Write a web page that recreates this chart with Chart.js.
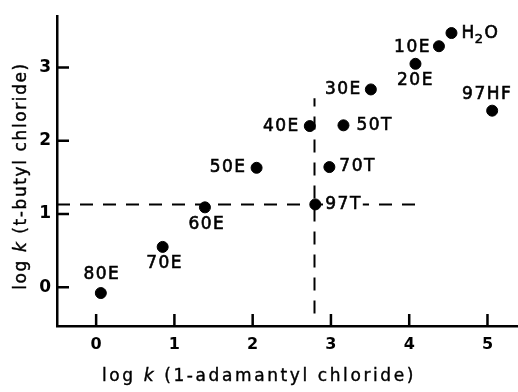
<!DOCTYPE html>
<html>
<head>
<meta charset="utf-8">
<script src="https://cdn.jsdelivr.net/npm/chart.js@4.4.1/dist/chart.umd.min.js"></script>
<style>
  html, body { margin: 0; padding: 0; background: #fff; }
</style>
</head>
<body>
<canvas id="lfer" width="518" height="392"></canvas>
<script>
// solvent codes and rate constants (log k)
const solvents = ['80E', '70E', '60E', '50E', '40E', '30E', '20E', '10E', 'H2O', '50T', '70T', '97T', '97HF'];
const logkAdamantyl = [0.06, 0.85, 1.39, 2.05, 2.73, 3.51, 4.08, 4.38, 4.54, 3.16, 2.98, 2.80, 5.06];
const logkButyl = [-0.08, 0.55, 1.09, 1.63, 2.20, 2.70, 3.05, 3.29, 3.47, 2.21, 1.64, 1.13, 2.41];

const xTickValues = [0, 1, 2, 3, 4, 5];
const yTickValues = [0, 1, 2, 3];

// dashed guide lines through 97T
const hGuideX = [-0.5, 4.12];
const hGuideY = [1.13, 1.13];
const vGuideX = [2.79, 2.79];
const vGuideY = [-0.36, 2.58];

const FONT = '"DejaVu Sans", sans-serif';

// where each label sits relative to its dot: [align, dx, dy, whiteBg]
const labelLayout = {
  '80E': ['center', 1, -18],
  '70E': ['center', 2, 17],
  '60E': ['center', 2, 17],
  '50E': ['right', -10, 0],
  '40E': ['right', -10, 1],
  '30E': ['right', -9, 0],
  '20E': ['center', 0, 17],
  '10E': ['right', -8, 1],
  'H2O': ['left', 10, 1],
  '50T': ['left', 13, 0],
  '70T': ['left', 10, 0],
  '97T': ['left', 10, 0, true],
  '97HF': ['center', -5, -16]
};

function drawRuns(ctx, runs, size) {
  // measure then draw text runs centered on the current origin
  let total = 0;
  runs.forEach(r => {
    ctx.font = (r.italic ? 'italic ' : '') + size + 'px ' + FONT;
    r.w = ctx.measureText(r.t).width;
    total += r.w;
  });
  let x = -total / 2;
  runs.forEach(r => {
    ctx.font = (r.italic ? 'italic ' : '') + size + 'px ' + FONT;
    ctx.fillText(r.t, x, 0);
    ctx.strokeText(r.t, x, 0);
    x += r.w;
  });
}

function boldText(ctx, t, x, y) {
  ctx.fillText(t, x, y);
  ctx.strokeText(t, x, y);
}

const decorations = {
  id: 'decorations',
  afterDatasetsDraw(chart) {
    const ctx = chart.ctx;
    const xs = chart.scales.x, ys = chart.scales.y;
    const area = chart.chartArea;

    // inward tick marks
    ctx.save();
    ctx.strokeStyle = '#000';
    ctx.lineWidth = 2.5;
    ctx.beginPath();
    xTickValues.forEach(v => {
      const px = xs.getPixelForValue(v);
      ctx.moveTo(px, area.bottom);
      ctx.lineTo(px, area.bottom - 12);
    });
    yTickValues.forEach(v => {
      const py = ys.getPixelForValue(v);
      ctx.moveTo(area.left, py);
      ctx.lineTo(area.left + 12, py);
    });
    ctx.stroke();
    ctx.restore();

    // point labels
    const meta = chart.getDatasetMeta(2);
    ctx.save();
    ctx.fillStyle = '#000';
    ctx.strokeStyle = '#000';
    ctx.lineWidth = 0.6;
    ctx.textBaseline = 'middle';
    ctx.font = '17px ' + FONT;
    ctx.letterSpacing = '1.5px';
    solvents.forEach((name, i) => {
      const el = meta.data[i];
      const lay = labelLayout[name];
      const x = el.x + lay[1], y = el.y + lay[2];
      if (name === 'H2O') {
        ctx.textAlign = 'left';
        ctx.font = '17px ' + FONT;
        boldText(ctx, 'H', x, y);
        let w = ctx.measureText('H').width;
        ctx.font = '13px ' + FONT;
        boldText(ctx, '2', x + w - 1, y + 6);
        w += ctx.measureText('2').width - 1;
        ctx.font = '17px ' + FONT;
        boldText(ctx, 'O', x + w, y);
        return;
      }
      ctx.textAlign = lay[0];
      if (lay[3]) {
        const w = ctx.measureText(name).width;
        ctx.fillStyle = '#fff';
        ctx.fillRect(x - 1, y - 8, w + 2, 16);
        ctx.fillStyle = '#000';
      }
      boldText(ctx, name, x, y);
    });
    ctx.restore();
  },
  afterDraw(chart) {
    const ctx = chart.ctx;
    ctx.save();
    ctx.fillStyle = '#000';
    ctx.strokeStyle = '#000';
    ctx.lineWidth = 0.4;
    ctx.textBaseline = 'middle';
    ctx.textAlign = 'left';
    // x title
    ctx.save();
    ctx.letterSpacing = '2.6px';
    ctx.translate(259, 377);
    drawRuns(ctx, [{t: 'log '}, {t: 'k', italic: true}, {t: ' (1-adamantyl chloride)'}], 17);
    ctx.restore();
    // y title
    ctx.save();
    ctx.letterSpacing = '1.6px';
    ctx.translate(22, 176);
    ctx.rotate(-Math.PI / 2);
    drawRuns(ctx, [{t: 'log '}, {t: 'k', italic: true}, {t: ' (t-butyl chloride)'}], 17);
    ctx.restore();
    ctx.restore();
  }
};

const toPoints = (xsArr, ysArr) => xsArr.map((x, i) => ({x: x, y: ysArr[i]}));

new Chart(document.getElementById('lfer'), {
  type: 'scatter',
  data: {
    datasets: [{
      data: toPoints(hGuideX, hGuideY),
      showLine: true,
      borderColor: '#000',
      borderWidth: 2,
      borderDash: [13, 10],
      pointRadius: 0
    }, {
      data: toPoints(vGuideX, vGuideY),
      showLine: true,
      borderColor: '#000',
      borderWidth: 2,
      borderDash: [13, 10],
      pointRadius: 0
    }, {
      data: toPoints(logkAdamantyl, logkButyl),
      backgroundColor: '#000',
      borderColor: '#000',
      pointRadius: 5.5,
      pointHoverRadius: 5.5
    }]
  },
  options: {
    responsive: false,
    animation: false,
    layout: { autoPadding: false, padding: { top: 14, right: 0, bottom: 0, left: 0 } },
    plugins: {
      legend: { display: false },
      tooltip: { enabled: false }
    },
    scales: {
      x: {
        type: 'linear',
        min: -0.5,
        max: 5.39,
        afterBuildTicks: scale => { scale.ticks = xTickValues.map(v => ({value: v})); },
        afterFit: scale => { scale.height = 66; },
        grid: { drawOnChartArea: false, drawTicks: false },
        border: { display: true, color: '#000', width: 2.5 },
        ticks: {
          color: '#000',
          padding: 9,
          font: { family: FONT, size: 16, weight: 'bold' }
        }
      },
      y: {
        type: 'linear',
        min: -0.53,
        max: 3.70,
        afterBuildTicks: scale => { scale.ticks = yTickValues.map(v => ({value: v})); },
        afterFit: scale => { scale.width = 57; },
        grid: { drawOnChartArea: false, drawTicks: false },
        border: { display: true, color: '#000', width: 2.5 },
        ticks: {
          color: '#000',
          padding: 6,
          font: { family: FONT, size: 17, weight: 'bold' }
        }
      }
    }
  },
  plugins: [decorations]
});
</script>
</body>
</html>
